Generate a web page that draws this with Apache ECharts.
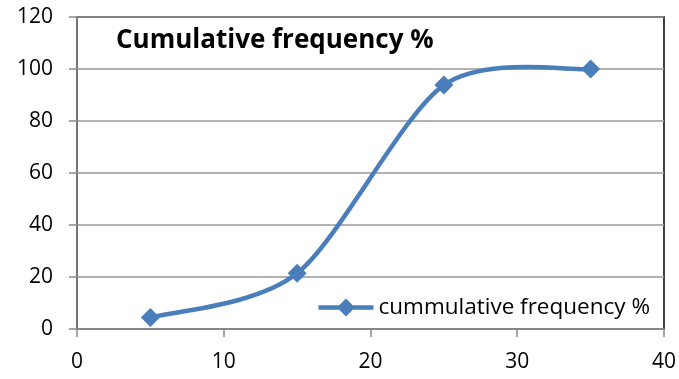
<!DOCTYPE html>
<html><head><meta charset="utf-8">
<script src="https://cdn.jsdelivr.net/npm/echarts@6/dist/echarts.min.js"></script>
<style>html,body{margin:0;padding:0;background:#fff}#c{width:679px;height:379px}</style>
</head><body><div id="c"></div>
<script>
const xValues = [5, 15, 25, 35];
const yValues = [4.4, 21.4, 93.8, 100];
const seriesName = 'cummulative frequency %';
const chartTitle = 'Cumulative frequency %';
const FONT = 'Open Sans';
const BLUE = '#4a7ebb';
const TENSION = 1 / 7;

function renderCurve(params, api) {
  if (params.dataIndex !== 0) return;
  const p = xValues.map((x, i) => api.coord([x, yValues[i]]));
  const n = p.length;
  const children = [];
  for (let i = 0; i < n - 1; i++) {
    const p0 = p[Math.max(i - 1, 0)], p1 = p[i], p2 = p[i + 1], p3 = p[Math.min(i + 2, n - 1)];
    children.push({
      type: 'bezierCurve',
      shape: {
        x1: p1[0], y1: p1[1], x2: p2[0], y2: p2[1],
        cpx1: p1[0] + (p2[0] - p0[0]) * TENSION, cpy1: p1[1] + (p2[1] - p0[1]) * TENSION,
        cpx2: p2[0] - (p3[0] - p1[0]) * TENSION, cpy2: p2[1] - (p3[1] - p1[1]) * TENSION
      },
      style: {stroke: BLUE, lineWidth: 4.5, fill: null, lineCap: 'round'}
    });
  }
  return {type: 'group', children};
}

const chart = echarts.init(document.getElementById('c'));
chart.setOption({
  animation: false,
  backgroundColor: '#fff',
  title: {
    text: chartTitle, left: 111, top: 23,
    textStyle: {fontFamily: FONT, fontSize: 26, fontWeight: 'bold', color: '#000'}
  },
  legend: {
    right: 24, top: 291, itemWidth: 55, itemHeight: 18, itemGap: 4,
    textStyle: {fontFamily: FONT, fontSize: 22.5, color: '#000'},
    data: [{
      name: seriesName,
      icon: 'path://M0,6.8L55,6.8L55,11.2L0,11.2Z M27.5,0L36.5,9L27.5,18L18.5,9Z',
      itemStyle: {color: BLUE}
    }]
  },
  grid: {left: 77, right: 14, top: 17, bottom: 50, show: true, borderColor: '#000', borderWidth: 1.5},
  xAxis: {
    type: 'value', min: 0, max: 40, interval: 10,
    axisLine: {show: true, lineStyle: {color: '#888', width: 1.5}},
    axisTick: {show: true, length: 8, lineStyle: {color: '#888', width: 1.5}},
    axisLabel: {fontFamily: FONT, fontSize: 21, color: '#000', margin: 23},
    splitLine: {show: false}
  },
  yAxis: {
    type: 'value', min: 0, max: 120, interval: 20,
    axisLine: {show: true, lineStyle: {color: '#888', width: 1.5}},
    axisTick: {show: true, length: 8, lineStyle: {color: '#888', width: 1.5}},
    axisLabel: {fontFamily: FONT, fontSize: 21, color: '#000', margin: 24},
    splitLine: {show: true, lineStyle: {color: '#999', width: 1.5}}
  },
  series: [{
    name: 'curve', type: 'custom', renderItem: renderCurve,
    data: [[xValues[0], yValues[0]]], z: 2, silent: true
  }, {
    name: seriesName, type: 'line',
    data: xValues.map((x, i) => [x, yValues[i]]),
    symbol: 'diamond', symbolSize: 19, z: 3,
    lineStyle: {color: BLUE, width: 4.5, opacity: 0},
    itemStyle: {color: BLUE}
  }]
});
</script></body></html>
